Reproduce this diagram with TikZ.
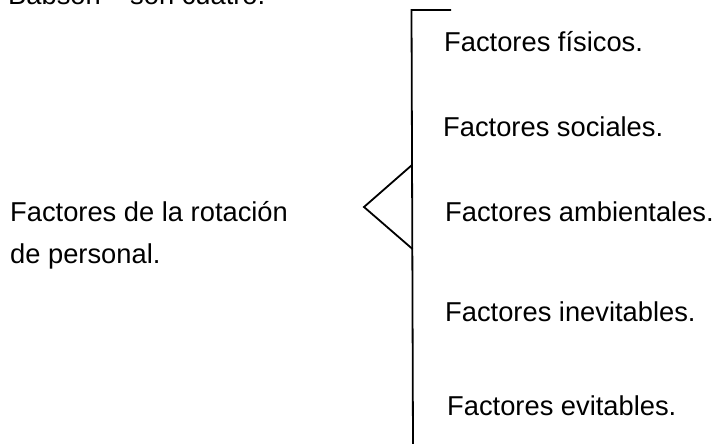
\documentclass[tikz,border=0pt]{standalone}
\usepackage{fontspec}
\setmainfont{Liberation Sans}
\begin{document}
\begin{tikzpicture}[x=1pt,y=-1pt,
  txt/.style={anchor=base west, inner sep=0pt, font=\fontsize{27.3}{31}\selectfont},
  rule/.style={line width=1.8pt, line join=miter, line cap=butt}]
\useasboundingbox (0,0) rectangle (718,444);
\clip (0,0) rectangle (718,444);
% clipped line of text above
\node[txt] (t1) at (8,5) {Babson};
\node[txt] (t2) at (130,5) {son cuatro.};
% bracket
\coordinate (htop) at (451,10);
\coordinate (vtop) at (411.5,10);
\coordinate (vbot) at (413,446);
\coordinate (tritop) at (412,165);
\coordinate (apex) at (364,207);
\coordinate (tribot) at (412.5,249);
\draw[rule] (htop) -- (vtop) -- (vbot);
\draw[rule] (tritop) -- (apex) -- (tribot);
% left label
\node[txt] (l1) at (10,221) {Factores de la rotación};
\node[txt] (l2) at (10,263) {de personal.};
% right items
\node[txt] (r1) at (444,52) {Factores físicos.};
\node[txt] (r2) at (443,136) {Factores sociales.};
\node[txt] (r3) at (445,221) {Factores ambientales.};
\node[txt] (r4) at (445,321) {Factores inevitables.};
\node[txt] (r5) at (447,415) {Factores evitables.};
\end{tikzpicture}
\end{document}
